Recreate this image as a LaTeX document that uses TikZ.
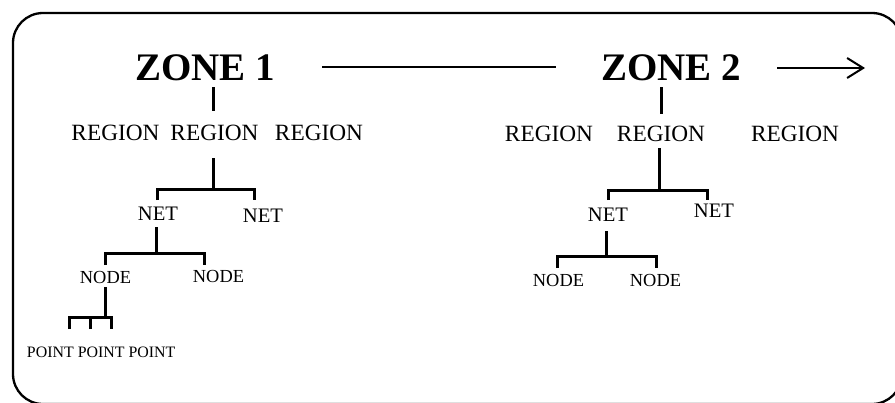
\documentclass[tikz,border=0pt]{standalone}
\usepackage{fontspec}
\setmainfont{Liberation Serif}
\usepackage{tikz}
\usetikzlibrary{arrows.meta}

\tikzset{
	lbl/.style={inner sep=0pt,anchor=base},
	zonetxt/.style={lbl,font=\fontsize{39}{39}\selectfont\bfseries},
	regtxt/.style={lbl,font=\fontsize{23.3}{23.3}\selectfont},
	nettxt/.style={lbl,font=\fontsize{20.6}{20.6}\selectfont},
	nodetxt/.style={lbl,font=\fontsize{18.4}{18.4}\selectfont},
	pointtxt/.style={lbl,font=\fontsize{15.9}{15.9}\selectfont},
	branch/.style={line width=3pt},
	link/.style={line width=2pt},
	frame/.style={line width=2.3pt,rounded corners=30pt}
}

\begin{document}
\begin{tikzpicture}[x=1pt,y=-1pt]
	\useasboundingbox (0,0) rectangle (895,402);
	\draw[frame] (13,13) rectangle (902,404);

	% zones
	\node[zonetxt] (z1) at (205,80) {ZONE 1};
	\node[zonetxt] (z2) at (671,80) {ZONE 2};
	\coordinate (tip) at (865,68);

	\draw[link,shorten <=47pt,shorten >=45pt] (z1.east) -- (z2.west);
	\draw[link,shorten <=36pt,-{Straight Barb[length=16pt,width=20pt]}] (z2.east |- tip) -- (tip);

	% zone 1
	\node[regtxt] (r11) at (115.5,140) {REGION};
	\node[regtxt] (r12) at (214.5,140) {REGION};
	\node[regtxt] (r13) at (319,140)   {REGION};

	\node[nettxt] (n11) at (158,220) {NET};
	\node[nettxt] (n12) at (263,222) {NET};

	\node[nodetxt] (d11) at (105.5,283) {NODE};
	\node[nodetxt] (d12) at (218.5,282) {NODE};

	\node[pointtxt] (p1) at (50.4,357)  {POINT};
	\node[pointtxt] (p2) at (101.2,357) {POINT};
	\node[pointtxt] (p3) at (152,357)   {POINT};

	\coordinate (k1)  at (213,189);
	\coordinate (k1a) at (157,200);
	\coordinate (k1b) at (254,200);
	\coordinate (k3)  at (156,253);
	\coordinate (k3a) at (105,265);
	\coordinate (k3b) at (204,265);
	\coordinate (k5)  at (105,317);
	\coordinate (k5a) at (69,329);
	\coordinate (k5b) at (90,329);
	\coordinate (k5c) at (111,329);

	\draw[branch,shorten <=7pt,shorten >=13.5pt] (z1.base -| k1) -- (k1 |- r12.north);
	\draw[branch,shorten <=18pt] (k1 |- r12.base) -- (k1);
	\draw[branch] (k1a) |- (k1) -| (k1b);
	\draw[branch,shorten <=7pt] (k3 |- n11.base) -- (k3);
	\draw[branch] (k3a) |- (k3) -| (k3b);
	\draw[branch,shorten <=4pt] (k5 |- d11.base) -- (k5);
	\draw[branch] (k5a) |- (k5) -| (k5c);
	\draw[branch] (k5b) -- (k5b |- k5);

	% zone 2
	\node[regtxt] (r21) at (549,141) {REGION};
	\node[regtxt] (r22) at (661,141) {REGION};
	\node[regtxt] (r23) at (795,141) {REGION};

	\node[nettxt] (n21) at (608,221) {NET};
	\node[nettxt] (n22) at (714,217) {NET};

	\node[nodetxt] (d21) at (558.5,286) {NODE};
	\node[nodetxt] (d22) at (655.5,286) {NODE};

	\coordinate (k2)  at (659,190);
	\coordinate (k2a) at (608,200);
	\coordinate (k2b) at (707,200);
	\coordinate (k4)  at (606,256);
	\coordinate (k4a) at (557,268);
	\coordinate (k4b) at (656,268);

	\draw[branch,shorten <=7pt,shorten >=11pt] (z2.base -| r22) -- (r22.north);
	\draw[branch,shorten <=7pt] (k2 |- r22.base) -- (k2);
	\draw[branch] (k2a) |- (k2) -| (k2b);
	\draw[branch,shorten <=10pt] (k4 |- n21.base) -- (k4);
	\draw[branch] (k4a) |- (k4) -| (k4b);
\end{tikzpicture}
\end{document}
